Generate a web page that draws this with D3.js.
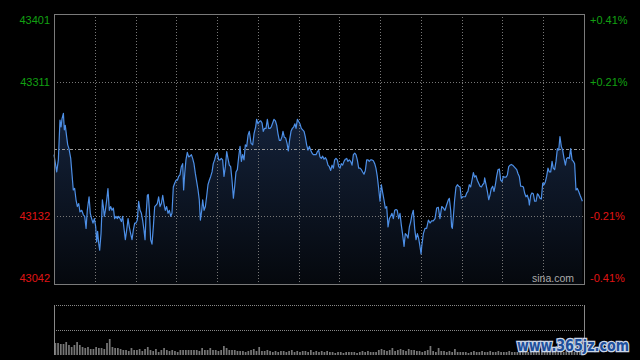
<!DOCTYPE html>
<html><head><meta charset="utf-8">
<script src="https://cdn.jsdelivr.net/npm/d3@7"></script>
<style>html,body{margin:0;padding:0;background:#000;}svg{display:block}</style>
</head><body><svg id="c" width="640" height="360"></svg>
<script>
// ---- data ----
const prevClose = 43221.5;
const priceTicks = [43401, 43311, 43132, 43042];
const pctTicks = ["+0.41%", "+0.21%", "-0.21%", "-0.41%"];
const gridMinutes = [30,60,90,120,150,180,210,240,270,300,330,360];
const sessionMinutes = 390;
const minutes = [
0,2.0,3.2,4.4,5.2,5.9,6.9,7.6,8.3,9.3,
10.1,11.0,12.3,13.2,14.2,15.2,16.2,17.2,18.2,19.1,
20.4,21.6,22.6,23.6,24.5,25.8,26.7,27.7,28.7,29.7,
30.7,31.4,32.1,32.9,33.6,34.6,35.6,36.3,37.0,37.8,
38.8,39.7,40.7,41.7,42.7,43.7,44.6,45.6,46.6,47.6,
48.6,49.6,50.5,51.5,52.5,53.5,54.5,55.4,56.4,57.4,
58.4,59.4,60.3,61.3,62.3,63.3,64.3,65.2,66.2,67.0,
67.7,68.7,69.4,70.2,71.1,72.1,73.1,74.1,75.1,76.0,
77.0,78.0,79.0,80.0,80.9,81.9,82.9,83.9,84.9,85.9,
86.8,87.8,88.8,89.8,90.8,91.7,92.7,93.7,94.7,95.4,
96.2,97.1,98.1,99.1,100.1,101.1,102.0,103.0,104.0,105.0,
106.0,106.9,107.7,108.7,109.4,110.4,111.4,112.3,113.3,114.3,
115.3,116.3,117.2,118.2,119.2,120.2,121.2,122.2,123.1,124.1,
125.1,126.1,127.1,128.0,129.0,130.0,131.0,132.0,132.9,133.9,
134.9,135.9,136.9,137.9,138.8,139.8,140.8,141.8,142.8,143.7,
145.0,146.2,147.2,148.4,149.1,150.1,151.1,152.1,153.1,154.0,
155.0,156.0,157.0,158.0,159.0,159.9,160.9,161.9,162.9,163.9,
164.8,165.8,166.8,167.8,168.5,169.5,170.5,171.5,172.4,173.4,
174.4,175.4,176.4,177.3,178.1,179.1,180.0,181.0,182.0,183.0,
184.0,184.9,185.9,186.9,187.9,188.9,189.9,190.8,191.8,192.8,
193.8,194.8,195.7,196.7,197.7,198.7,199.7,200.6,201.6,202.6,
203.6,204.6,205.6,206.5,207.5,208.5,209.5,210.5,211.4,212.4,
213.4,214.4,215.4,216.3,217.3,218.3,219.3,220.3,221.3,222.2,
223.2,224.2,225.2,226.2,227.1,228.1,229.1,230.1,231.1,232.0,
233.0,234.0,235.0,236.0,236.9,237.9,238.9,239.9,240.9,241.9,
242.8,243.8,244.8,245.8,246.8,247.7,248.7,249.7,250.7,251.7,
252.6,253.6,254.6,255.6,256.6,257.6,258.5,259.5,260.5,261.5,
262.5,263.4,264.4,265.4,266.4,267.4,268.3,269.3,270.1,
270.6,271.8,273.0,274.2,275.5,276.7,277.9,279.1,280.4,281.6,
282.8,284.0,285.3,286.5,287.7,288.9,290.2,290.9,291.9,292.6,
293.1,293.9,294.8,295.8,296.8,297.8,298.8,299.7,300.7,301.7,
302.7,303.7,304.6,305.6,306.6,307.6,308.6,309.5,310.5,311.5,
312.5,313.5,314.5,315.4,316.4,316.9,317.9,318.9,319.9,320.8,
321.8,322.8,323.8,324.8,325.7,326.7,327.7,328.7,329.7,330.6,
331.6,332.6,333.6,334.6,335.6,336.5,337.5,338.5,339.5,340.5,
341.4,342.4,343.4,344.4,345.4,346.3,347.3,348.3,349.3,349.8,
350.8,351.7,352.7,353.7,354.7,355.7,356.6,357.6,358.6,359.6,
360.6,361.6,362.5,363.5,364.5,365.5,366.5,367.4,368.4,369.4,
370.4,371.4,372.3,373.3,374.3,375.3,376.3,377.2,378.2,379.2,
380.2,381.2,382.2,383.1,384.1,385.1,386.1,387.1,388.0,388.8
];
const prices = [
43214,43191,43207,43260,43251,43262,43269,43247,43253,43238,
43227,43222,43209,43189,43167,43169,43154,43145,43149,43138,
43140,43134,43132,43116,43140,43158,43136,43129,43123,43129,
43118,43098,43112,43096,43087,43109,43154,43145,43132,43140,
43154,43169,43140,43145,43140,43143,43129,43132,43129,43132,
43129,43125,43132,43116,43101,43114,43129,43118,43109,43101,
43114,43123,43123,43127,43152,43140,43136,43127,43114,43101,
43132,43160,43161,43140,43101,43095,43118,43145,43147,43149,
43158,43145,43149,43160,43149,43140,43145,43136,43140,43132,
43136,43171,43176,43180,43180,43185,43187,43198,43202,43167,
43189,43207,43217,43211,43212,43214,43209,43202,43189,43178,
43167,43154,43127,43140,43154,43140,43145,43158,43174,43180,
43185,43191,43202,43207,43214,43216,43207,43207,43209,43207,
43185,43198,43218,43209,43200,43198,43180,43156,43171,43191,
43194,43211,43225,43205,43214,43207,43227,43225,43240,43245,
43229,43227,43242,43251,43261,43255,43258,43259,43256,43245,
43249,43249,43261,43249,43249,43251,43256,43261,43259,43253,
43242,43233,43233,43238,43245,43237,43236,43229,43219,43234,
43245,43249,43251,43255,43249,43261,43258,43255,43249,43247,
43245,43238,43227,43220,43225,43220,43216,43214,43214,43214,
43218,43220,43211,43209,43212,43208,43210,43207,43200,43198,
43193,43200,43196,43207,43209,43207,43198,43196,43202,43200,
43205,43208,43209,43205,43207,43205,43200,43214,43216,43214,
43207,43196,43196,43194,43191,43188,43193,43207,43207,43205,
43207,43207,43206,43202,43196,43185,43169,43152,43174,43163,
43154,43143,43145,43118,43129,43132,43136,43129,43140,43141,
43140,43129,43136,43120,43107,43092,43109,43107,43103,43118,
43125,43134,43140,43116,43101,43109,43103,43092,43082,
43092,43109,43116,43116,43127,43123,43126,43126,43129,43143,
43144,43129,43145,43143,43140,43147,43154,43156,43140,43118,
43116,43132,43154,43171,43174,43172,43171,43156,43158,43158,
43158,43163,43165,43174,43171,43180,43190,43184,43186,43180,
43176,43172,43171,43174,43176,43183,43174,43165,43154,43160,
43169,43172,43165,43174,43185,43194,43195,43180,43178,43185,
43184,43184,43187,43198,43200,43201,43200,43198,43196,43194,
43189,43185,43172,43172,43171,43163,43158,43160,43154,43147,
43160,43163,43162,43152,43152,43162,43160,43156,43155,43176,
43174,43178,43185,43196,43191,43191,43205,43196,43194,43205,
43222,43220,43238,43225,43220,43209,43200,43209,43210,43209,
43222,43207,43205,43202,43167,43169,43165,43160,43156,43152
];
// volume per 2-minute bucket (relative units)
const volumes = [
12,12,11,11,13,10,8,10,13,10,8,7,8,6,6,8,7,7,6,12,
16,8,7,7,6,5,5,4,7,5,5,6,4,6,8,5,4,6,3,5,
7,5,4,5,4,3,5,5,5,5,5,5,5,4,7,5,5,7,5,5,
4,5,9,7,5,5,5,4,4,4,3,4,5,6,4,8,4,4,5,4,
3,4,3,4,4,3,4,5,3,4,3,4,4,3,5,3,4,3,4,3,
4,3,3,2,3,3,2,3,3,3,3,2,3,4,3,4,3,3,3,5,
6,5,4,5,7,4,5,6,5,4,6,5,5,4,4,3,4,5,9,4,
3,7,4,4,3,4,3,6,3,3,3,3,2,3,4,3,3,4,3,3,
4,3,3,4,3,3,3,4,3,3,3,4,3,4,3,3,4,3,4,5,
3,4,3,4,5,3,4,3,4,3,4,3,4,3,4
];
const volMax = 50;

// ---- drawing ----
const svg = d3.select("#c");
const L = 54, R = 584, T = 14, B = 284;
const VT = 305, VB = 355;
svg.append("rect").attr("width",640).attr("height",360).attr("fill","#000");

const x = d3.scaleLinear().domain([0, sessionMinutes]).range([L, R]);
const y = d3.scaleLinear().domain([priceTicks[3], priceTicks[0]]).range([B, T]);
const yv = d3.scaleLinear().domain([0, volMax]).range([VB, VT]);

const defs = svg.append("defs");
const grad = defs.append("linearGradient").attr("id","ag").attr("x1",0).attr("y1",0).attr("x2",0).attr("y2",1);
grad.append("stop").attr("offset","0%").attr("stop-color","#14223a");
grad.append("stop").attr("offset","100%").attr("stop-color","#05080d");

const pts = minutes.map((m,i)=>({m, p: prices[i]}));

// area
svg.append("path").datum(pts)
  .attr("d", d3.area().x(d=>x(d.m)).y0(B).y1(d=>y(d.p)))
  .attr("fill","url(#ag)");

// grid
const g = svg.append("g");
g.selectAll(".vg").data(gridMinutes).join("line")
  .attr("x1",d=>Math.round(x(d))+0.5).attr("x2",d=>Math.round(x(d))+0.5)
  .attr("y1",T).attr("y2",B)
  .attr("stroke","#777").attr("stroke-dasharray","1,2");
g.selectAll(".hg").data([priceTicks[1], priceTicks[2]]).join("line")
  .attr("x1",L).attr("x2",R)
  .attr("y1",d=>Math.round(y(d))+0.5).attr("y2",d=>Math.round(y(d))+0.5)
  .attr("stroke","#777").attr("stroke-dasharray","1,2");
g.append("line").attr("x1",L).attr("x2",R)
  .attr("y1",Math.round(y(prevClose))+0.5).attr("y2",Math.round(y(prevClose))+0.5)
  .attr("stroke","#999").attr("stroke-dasharray","3,2,1,2");

// line
svg.append("path").datum(pts)
  .attr("d", d3.line().x(d=>x(d.m)).y(d=>y(d.p)))
  .attr("fill","none").attr("stroke","#4d8fe6").attr("stroke-width",1.2)
  .attr("stroke-linejoin","round");

// frame
svg.append("rect").attr("x",L+0.5).attr("y",T+0.5).attr("width",R-L).attr("height",B-T)
  .attr("fill","none").attr("stroke","#7a7a7a");

// axis labels
const lbl = priceTicks.map((v,i)=>({v, pct: pctTicks[i], up: v > prevClose}));
const labelY = v => {
  const yy = y(v);
  if (yy <= T + 1) return yy + 10;
  if (yy >= B - 1) return yy - 2;
  return yy + 4;
};
svg.selectAll(".ll").data(lbl).join("text")
  .attr("x",50).attr("y",d=>labelY(d.v)).attr("text-anchor","end")
  .attr("font-family","Liberation Sans, Arial, sans-serif").attr("font-size",11)
  .attr("fill",d=>d.up?"#12a012":"#e01414").text(d=>d.v);
svg.selectAll(".rl").data(lbl).join("text")
  .attr("x",590).attr("y",d=>labelY(d.v)).attr("text-anchor","start")
  .attr("font-family","Liberation Sans, Arial, sans-serif").attr("font-size",11)
  .attr("fill",d=>d.up?"#12a012":"#e01414").text(d=>d.pct);

svg.append("text").attr("x",574).attr("y",282).attr("text-anchor","end")
  .attr("font-family","Liberation Sans, Arial, sans-serif").attr("font-size",10.5)
  .attr("fill","#aaa").text("sina.com");

// volume panel
svg.append("line").attr("x1",L).attr("x2",R).attr("y1",VT+0.5).attr("y2",VT+0.5)
  .attr("stroke","#888").attr("stroke-dasharray","1,1");
svg.append("line").attr("x1",L).attr("x2",R).attr("y1",yv(volMax/2)+0.5).attr("y2",yv(volMax/2)+0.5)
  .attr("stroke","#888").attr("stroke-dasharray","1,1");
const bw = x(2) - x(0);
svg.selectAll(".vb").data(volumes).join("rect")
  .attr("x",(d,i)=>x(i*2)+0.5).attr("width",Math.max(1,bw-1))
  .attr("y",d=>yv(d)).attr("height",d=>VB-yv(d))
  .attr("fill","#767676");
svg.append("line").attr("x1",L+0.5).attr("x2",L+0.5).attr("y1",VT).attr("y2",VB).attr("stroke","#888");
svg.append("line").attr("x1",R+0.5).attr("x2",R+0.5).attr("y1",VT).attr("y2",VB).attr("stroke","#888");

// watermark
svg.append("text").attr("x",517).attr("y",351)
  .attr("font-family","DejaVu Sans Condensed, DejaVu Sans, sans-serif").attr("font-stretch","condensed")
  .attr("font-weight","bold").attr("font-size",15)
  .attr("textLength",112).attr("lengthAdjust","spacingAndGlyphs")
  .attr("fill","#1d4f9c").attr("stroke","#c9d5e6").attr("stroke-width",2.5)
  .attr("paint-order","stroke").text("www.365jz.com");
</script>
</body></html>
